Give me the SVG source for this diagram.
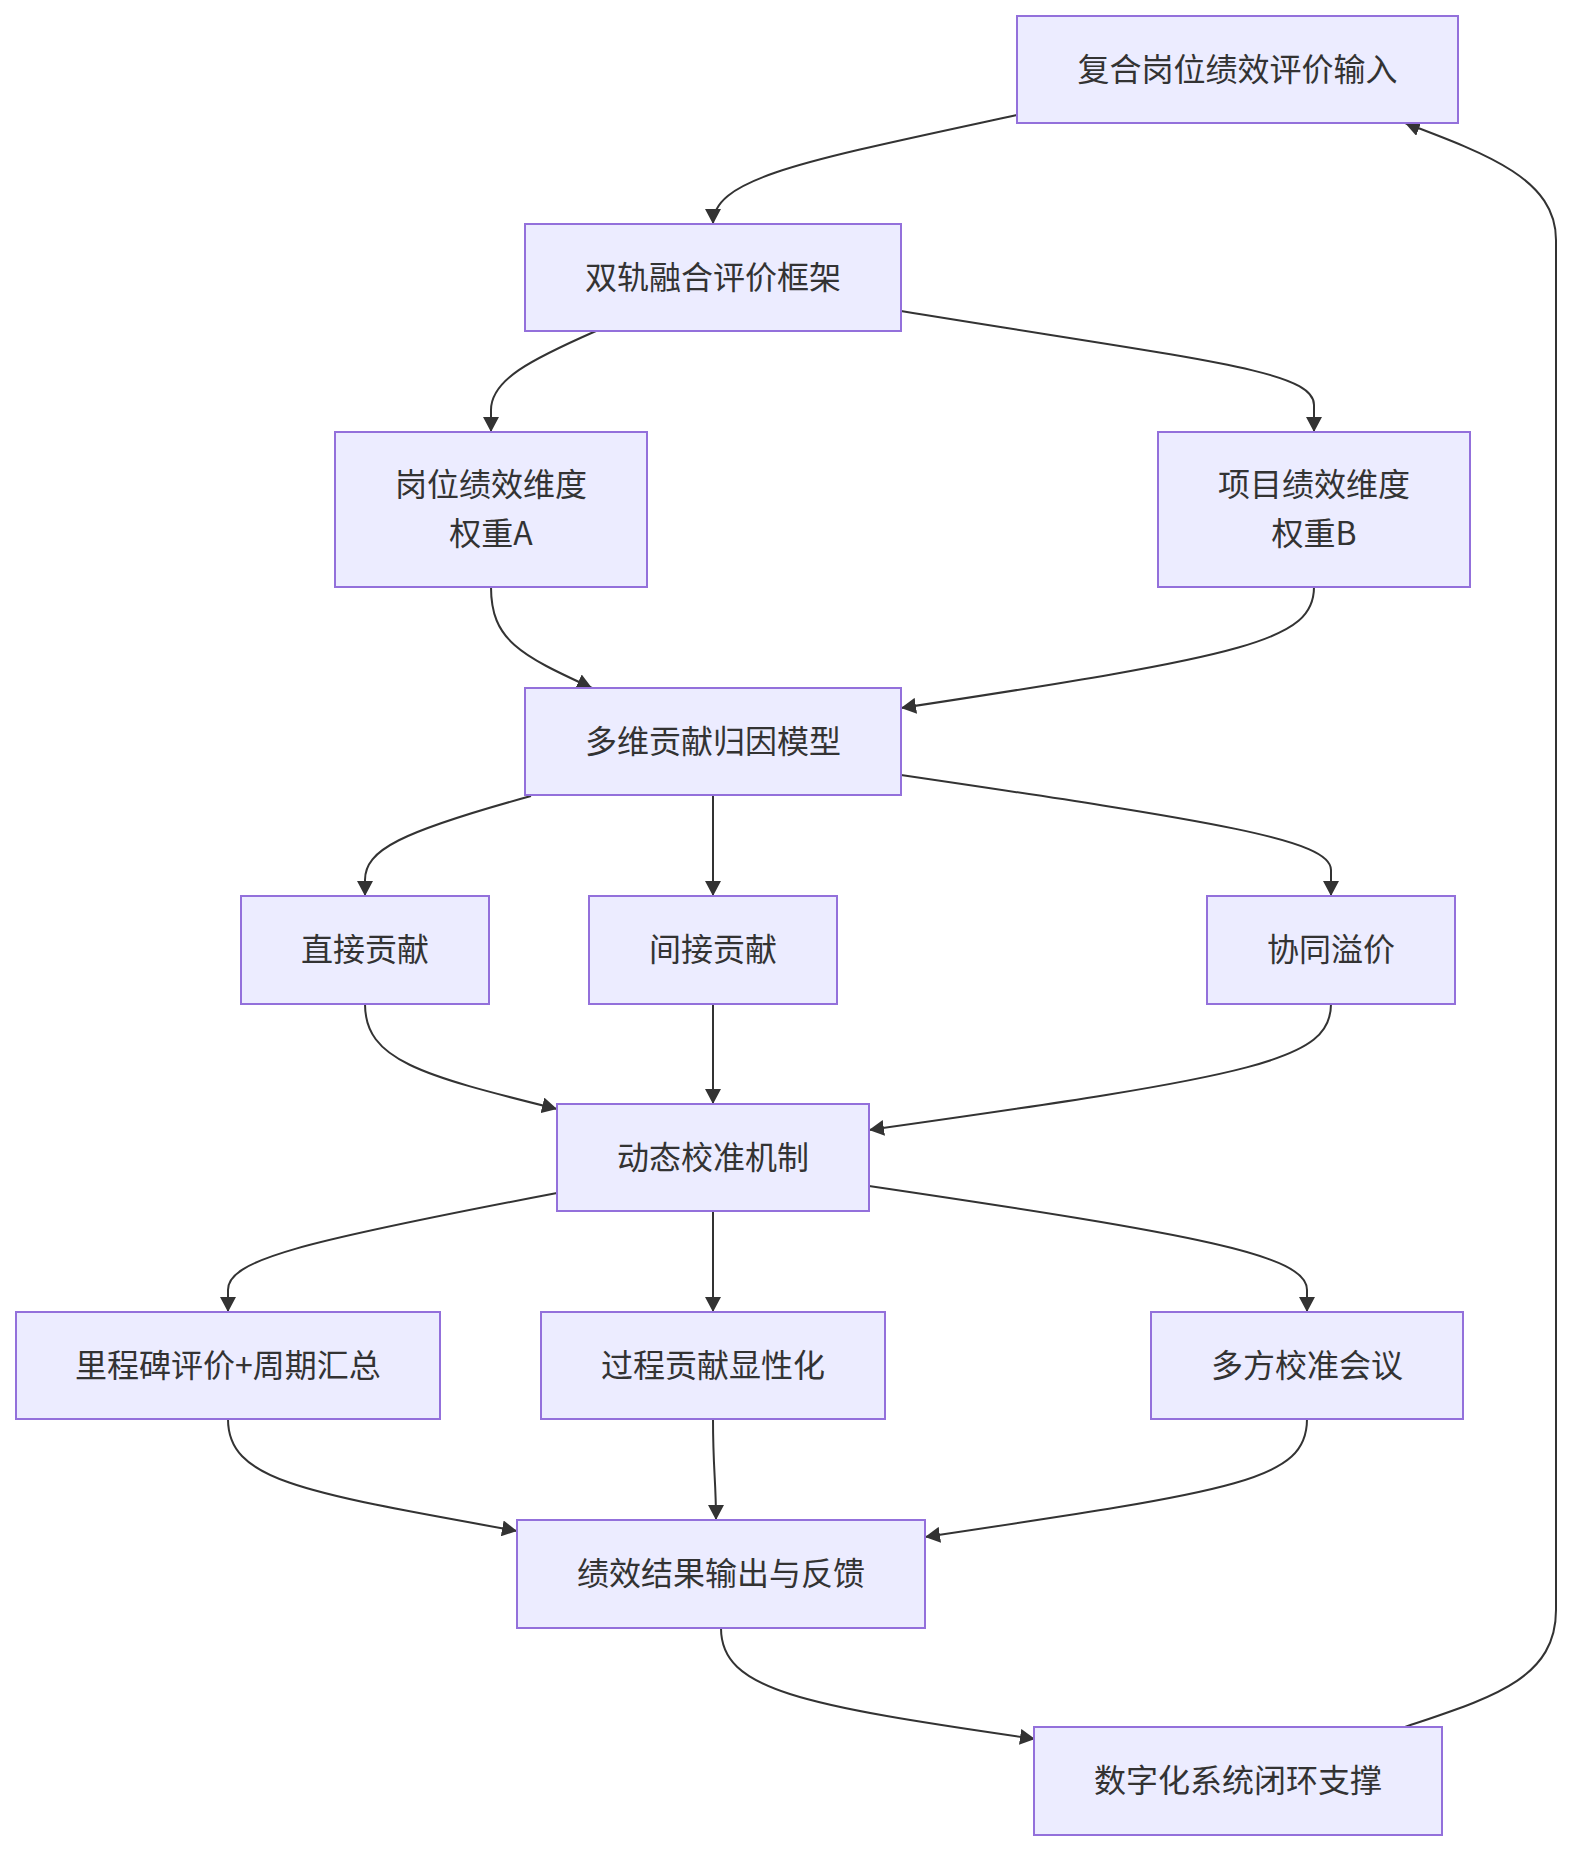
<svg xmlns="http://www.w3.org/2000/svg" width="1572" height="1852" viewBox="0 0 1572 1852">
<style>
.node rect{fill:#ECECFF;stroke:#9370DB;stroke-width:2}
.node text{font-family:"Noto Sans CJK SC","Noto Sans",sans-serif;font-size:32px;fill:#333;text-anchor:middle}
.edges path{fill:none;stroke:#333;stroke-width:2;marker-end:url(#arrow)}
</style>
<defs>
<marker id="arrow" viewBox="0 0 15 16" refX="15" refY="8" markerWidth="15" markerHeight="16" markerUnits="userSpaceOnUse" orient="auto">
<path d="M0,0 L15,8 L0,16 z" fill="#333"/>
</marker>
</defs>
<rect width="1572" height="1852" fill="#fff"/>
<g class="edges">
<path d="M1017,115 C 800,162 713,178 713,224"/>
<path d="M596,331 C 530,360 491,380 491,410 L491,432"/>
<path d="M901,311 C 1200,360 1314,370 1314,405 L1314,432"/>
<path d="M491,587 C 491,640 520,655 592,688"/>
<path d="M1314,587 C 1314,640 1250,655 901,708"/>
<path d="M531,796 C 400,832 365,850 365,880 L365,896"/>
<path d="M713,796 L713,896"/>
<path d="M901,775 C 1220,822 1331,840 1331,870 L1331,896"/>
<path d="M365,1004 C 365,1060 420,1075 557,1109"/>
<path d="M713,1004 L713,1104"/>
<path d="M1331,1004 C 1331,1060 1260,1075 869,1130"/>
<path d="M557,1193 C 300,1242 228,1260 228,1290 L228,1312"/>
<path d="M713,1211 L713,1312"/>
<path d="M869,1186 C 1200,1235 1307,1255 1307,1290 L1307,1312"/>
<path d="M228,1419 C 228,1480 300,1492 517,1531"/>
<path d="M713,1419 C 713,1470 716,1480 716,1520"/>
<path d="M1307,1419 C 1307,1480 1240,1490 925,1537"/>
<path d="M721,1628 C 721,1690 800,1705 1035,1739"/>
<path d="M1405,1727 C 1490,1698 1556,1680 1556,1610 L1556,240 C 1556,180 1490,155 1405,123"/>
</g>
<g id="n1" class="node"><rect x="1017" y="16" width="441" height="107"/><text x="1237.5" y="81">复合岗位绩效评价输入</text></g>
<g id="n2" class="node"><rect x="525" y="224" width="376" height="107"/><text x="713" y="289">双轨融合评价框架</text></g>
<g id="n3" class="node"><rect x="335" y="432" width="312" height="155"/><text x="491" y="496">岗位绩效维度</text><text x="491" y="545">权重A</text></g>
<g id="n4" class="node"><rect x="1158" y="432" width="312" height="155"/><text x="1314" y="496">项目绩效维度</text><text x="1314" y="545">权重B</text></g>
<g id="n5" class="node"><rect x="525" y="688" width="376" height="107"/><text x="713" y="753">多维贡献归因模型</text></g>
<g id="n6" class="node"><rect x="241" y="896" width="248" height="108"/><text x="365" y="961">直接贡献</text></g>
<g id="n7" class="node"><rect x="589" y="896" width="248" height="108"/><text x="713" y="961">间接贡献</text></g>
<g id="n8" class="node"><rect x="1207" y="896" width="248" height="108"/><text x="1331" y="961">协同溢价</text></g>
<g id="n9" class="node"><rect x="557" y="1104" width="312" height="107"/><text x="713" y="1169">动态校准机制</text></g>
<g id="n10" class="node"><rect x="16" y="1312" width="424" height="107"/><text x="228" y="1377">里程碑评价+周期汇总</text></g>
<g id="n11" class="node"><rect x="541" y="1312" width="344" height="107"/><text x="713" y="1377">过程贡献显性化</text></g>
<g id="n12" class="node"><rect x="1151" y="1312" width="312" height="107"/><text x="1307" y="1377">多方校准会议</text></g>
<g id="n13" class="node"><rect x="517" y="1520" width="408" height="108"/><text x="721" y="1585">绩效结果输出与反馈</text></g>
<g id="n14" class="node"><rect x="1034" y="1727" width="408" height="108"/><text x="1238" y="1792">数字化系统闭环支撑</text></g>
</svg>
